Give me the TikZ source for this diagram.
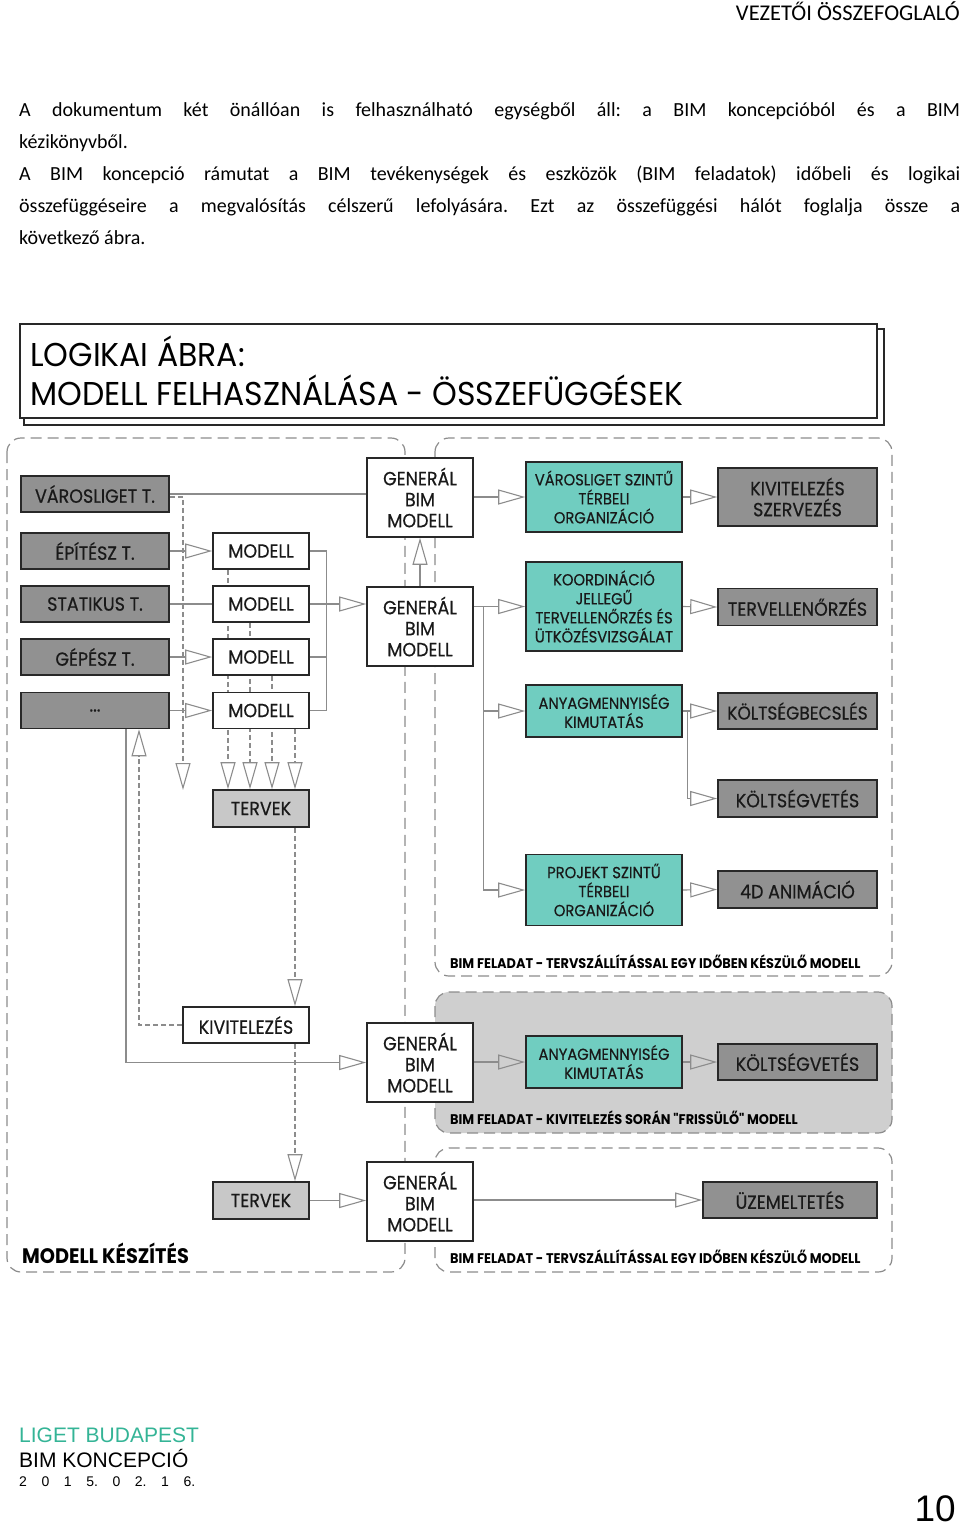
\documentclass[tikz,border=0pt]{standalone}
\usepackage{fontspec}
\setmainfont{Carlito}
\newfontfamily\diafont[FakeStretch=0.92,FakeBold=0.5]{Poppins}
\newfontfamily\tagfont[FakeStretch=0.92]{Poppins}
\newfontfamily\titlefont[FakeStretch=0.955]{Poppins}
\newfontfamily\footfont{Liberation Sans}
\usetikzlibrary{arrows.meta,calc}

\definecolor{tealbox}{RGB}{112,205,192}
\definecolor{darkbox}{RGB}{145,145,145}
\definecolor{lightbox}{RGB}{200,200,200}
\definecolor{regionfill}{RGB}{207,207,207}
\definecolor{wire}{RGB}{140,140,140}
\definecolor{edge}{RGB}{40,40,40}
\definecolor{ligetgreen}{RGB}{52,180,150}

\pgfdeclarelayer{regions}
\pgfdeclarelayer{wires}
\pgfsetlayers{regions,wires,main}

\tikzset{
  box/.style={draw=edge, line width=1.6pt, inner sep=0pt, align=center,
    text=black!90, font=\diafont\fontsize{19}{21}\selectfont},
  whitebox/.style={box, fill=white},
  teamT/.style={box, fill=darkbox, minimum width=148pt, minimum height=36pt},
  modell/.style={whitebox, minimum width=96pt, minimum height=36pt},
  tervek/.style={box, fill=lightbox, minimum width=96pt, minimum height=37pt},
  genbox/.style={whitebox, minimum width=106pt, minimum height=79pt},
  task/.style={box, fill=tealbox, minimum width=156pt,
    font=\diafont\fontsize{16}{19}\selectfont},
  result/.style={box, fill=darkbox, minimum width=159pt, minimum height=37pt},
  plain/.style={draw=wire, line width=1.1pt},
  conn/.style={plain, -{Triangle[open,length=27pt,width=15pt]}},
  dconn/.style={conn, dash pattern=on 5pt off 3pt},
  region/.style={draw=wire, line width=1.2pt, dash pattern=on 11pt off 6pt,
    rounded corners=14pt},
  tag/.style={anchor=west, inner sep=0pt,
    font=\tagfont\bfseries\fontsize{14}{14}\selectfont},
  bodyline/.style={anchor=base west, inner sep=0pt,
    font=\fontsize{20}{24}\selectfont},
  foot/.style={anchor=base west, inner sep=0pt,
    font=\footfont\fontsize{21}{24}\selectfont},
}

\begin{document}
\frenchspacing
\begin{tikzpicture}[x=1pt,y=-1pt]
  \useasboundingbox (0,0) rectangle (960,1526);

  % page text
  \node[bodyline, anchor=base east, font=\fontsize{22.5}{24}\selectfont] (header) at (960,20) {VEZETŐI ÖSSZEFOGLALÓ};
  \node[bodyline] (line1) at (19,116) {\makebox[941pt][s]{A dokumentum két önállóan is felhasználható egységből áll: a BIM koncepcióból és a BIM}};
  \node[bodyline] (line2) at (19,148) {kézikönyvből.};
  \node[bodyline] (line3) at (19,180) {\makebox[941pt][s]{A BIM koncepció rámutat a BIM tevékenységek és eszközök (BIM feladatok) időbeli és logikai}};
  \node[bodyline] (line4) at (19,212) {\makebox[941pt][s]{összefüggéseire a megvalósítás célszerű lefolyására. Ezt az összefüggési hálót foglalja össze a}};
  \node[bodyline] (line5) at (19,244) {következő ábra.};

  % title
  \node[draw=edge, line width=1.8pt, fill=white, minimum width=857pt, minimum height=94pt] (title) at (448.5,371) {};
  \node[anchor=west, inner sep=0pt, align=left, font=\titlefont\fontsize{33}{39}\selectfont] (titletxt) at (30,371)
    {LOGIKAI ÁBRA:\\MODELL FELHASZNÁLÁSA - ÖSSZEFÜGGÉSEK};

  % model making
  \node[teamT] (varos) at (95,494) {VÁROSLIGET T.};
  \node[teamT] (epit) at (95,551) {ÉPÍTÉSZ T.};
  \node[teamT] (stat) at (95,604) {STATIKUS T.};
  \node[teamT] (gep) at (95,657) {GÉPÉSZ T.};
  \node[teamT] (dots) at (95,710.5) {...};
  \node[modell] (m1) at (261,551) {MODELL};
  \node[modell] (m2) at (261,604) {MODELL};
  \node[modell] (m3) at (261,657) {MODELL};
  \node[modell] (m4) at (261,710.5) {MODELL};
  \node[tervek] (terv1) at (261,808.5) {TERVEK};
  \node[whitebox, minimum width=126pt, minimum height=36pt] (kiv) at (246,1025) {KIVITELEZÉS};
  \node[tervek] (terv2) at (261,1200.5) {TERVEK};
  \node[tag, font=\tagfont\bfseries\fontsize{21}{21}\selectfont] (tagleft) at (22,1253) {MODELL KÉSZÍTÉS};

  % generated models
  \node[genbox] (g1) at (420,497.5) {GENERÁL\\BIM\\MODELL};
  \node[genbox] (g2) at (420,626.5) {GENERÁL\\BIM\\MODELL};
  \node[genbox] (g3) at (420,1062.5) {GENERÁL\\BIM\\MODELL};
  \node[genbox] (g4) at (420,1201.5) {GENERÁL\\BIM\\MODELL};

  % BIM tasks
  \node[task, minimum height=70pt] (t1) at (604,497) {VÁROSLIGET SZINTŰ\\TÉRBELI\\ORGANIZÁCIÓ};
  \node[task, minimum height=89pt] (t2) at (604,606.5) {KOORDINÁCIÓ\\JELLEGŰ\\TERVELLENŐRZÉS ÉS\\ÜTKÖZÉSVIZSGÁLAT};
  \node[task, minimum height=52pt] (t3) at (604,711) {ANYAGMENNYISÉG\\KIMUTATÁS};
  \node[task, minimum height=71pt] (t4) at (604,890) {PROJEKT SZINTŰ\\TÉRBELI\\ORGANIZÁCIÓ};
  \node[task, minimum height=52pt] (t5) at (604,1062) {ANYAGMENNYISÉG\\KIMUTATÁS};

  \node[result, minimum height=58pt] (r1) at (797.5,497) {KIVITELEZÉS\\SZERVEZÉS};
  \node[result] (r2) at (797.5,607) {TERVELLENŐRZÉS};
  \node[result, minimum height=36pt, font=\diafont\fontsize{18.5}{21}\selectfont] (r3) at (797.5,711) {KÖLTSÉGBECSLÉS};
  \node[result] (r4) at (797.5,798.5) {KÖLTSÉGVETÉS};
  \node[result] (r5) at (797.5,889.5) {4D ANIMÁCIÓ};
  \node[result, minimum height=36pt] (r6) at (797.5,1062) {KÖLTSÉGVETÉS};
  \node[result, minimum width=174pt, minimum height=36pt] (r7) at (790,1200) {ÜZEMELTETÉS};

  \node[tag] (tagtop) at (450,962) {BIM FELADAT - TERVSZÁLLÍTÁSSAL EGY IDŐBEN KÉSZÜLŐ MODELL};
  \node[tag] (tagmid) at (450,1118) {BIM FELADAT - KIVITELEZÉS SORÁN "FRISSÜLŐ" MODELL};
  \node[tag] (tagbot) at (450,1257) {BIM FELADAT - TERVSZÁLLÍTÁSSAL EGY IDŐBEN KÉSZÜLŐ MODELL};

  % footer
  \node[foot, text=ligetgreen] (liget) at (19,1442) {LIGET BUDAPEST};
  \node[foot] (bimk) at (19,1467) {BIM KONCEPCIÓ};
  \node[foot, font=\footfont\fontsize{14}{16}\selectfont] (date) at (19,1486) {\makebox[176pt][s]{2 0 1 5. 0 2. 1 6.}};
  \node[foot, anchor=base east, font=\footfont\fontsize{37}{40}\selectfont] (pageno) at (956,1521) {10};

  \coordinate (bus) at ($(m1.east)+(17,0)$);
  \coordinate (gbr) at ($(g2.east |- t2)+(10,0)$);
  \coordinate (tbr) at ($(t3.east)+(5,0)$);
  \coordinate (dotsout) at ($(dots.south)+(31,0)$);
  \coordinate (dotsin) at ($(dots.south)+(44,0)$);
  \coordinate (vend) at (183,790);

  \begin{pgfonlayer}{wires}
    \draw[plain] (varos.east) -- (varos.east -| g1.west);
    \draw[plain] (stat.east) -- (m2.west);
    \foreach \a/\b in {epit/m1,gep/m3,dots/m4,t1/r1,t2/r2,t3/r3,t4/r5,t5/r6}
      \draw[conn] (\a.east) -- (\b.west);
    \draw[plain] (m1.east) -- (bus) |- (m4.east);
    \draw[plain] (m3.east) -- (m3.east -| bus);
    \draw[conn] (m2.east) -- (m2.east -| g2.west);
    \draw[conn] (g2.north) -- (g1.south);
    \draw[conn] (g1.east |- t1) -- (t1.west);
    \draw[conn] (g2.east |- t2) -- (t2.west);
    \draw[conn] (gbr) |- (t3.west);
    \draw[conn] (gbr) |- (t4.west);
    \draw[conn] (tbr) |- (r4.west);
    \draw[conn] (g3.east |- t5) -- (t5.west);
    \draw[conn] (terv2.east) -- (terv2.east -| g4.west);
    \draw[conn] (g4.east |- r7) -- (r7.west);
    \draw[conn] (dotsout) |- (g3.west);
    % drawings flow
    \draw[dconn] ($(varos.east)+(0,3)$) -| (vend);
    \foreach \i/\dx in {1/-33,2/-11,3/11,4/34}
      \draw[dconn] ($(m\i.south)+(\dx,0)$) -- ($(terv1.north)+(\dx,0)$);
    \draw[dconn] ($(terv1.south)+(34,0)$) -- ($(kiv.north)+(49,0)$);
    \draw[dconn] ($(kiv.south)+(49,0)$) -- ($(terv2.north)+(34,0)$);
    \draw[dconn] (kiv.west) -| (dotsin);
  \end{pgfonlayer}

  \begin{pgfonlayer}{regions}
    \draw[draw=edge, line width=1.8pt, fill=white] ($(title.north west)+(5,6)$) rectangle ($(title.south east)+(6,6)$);
    \draw[region] (7,438) rectangle (405,1272);
    \draw[region] (435,438) rectangle (892,976);
    \draw[region, fill=regionfill] (435,992) rectangle (892,1133);
    \draw[region] (435,1148) rectangle (892,1272);
  \end{pgfonlayer}
\end{tikzpicture}
\end{document}
